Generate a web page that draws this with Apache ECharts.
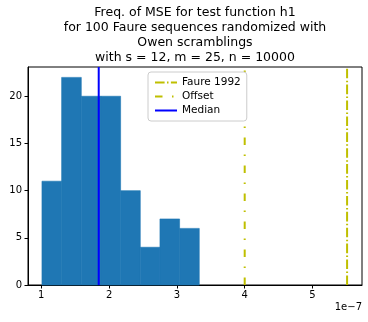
<!DOCTYPE html>
<html>
<head>
<meta charset="utf-8">
<script src="https://cdn.jsdelivr.net/npm/echarts@6/dist/echarts.min.js"></script>
<style>
  html, body { margin: 0; padding: 0; background: #fff; }
  #chart { width: 368px; height: 322px; }
</style>
</head>
<body>
<div id="chart"></div>
<script>
// histogram bins (values in units of 1e-7)
const binEdges = [1.01, 1.30, 1.59, 1.88, 2.17, 2.46, 2.75, 3.04, 3.33];
const binCounts = [11, 22, 20, 20, 10, 4, 7, 6];
const medianValue = 1.847;
const offsetValue = 4.0;
const faureValue = 5.51;
const xTicks = [1, 2, 3, 4, 5];
const yMax = 23.1;

const font = "DejaVu Sans";

let histData = [];
for (let i = 0; i < binCounts.length; i++) {
  histData.push([binEdges[i], binEdges[i + 1], binCounts[i]]);
}

function vline(v) {
  return [[v, 0], [v, yMax]];
}

let myChart = echarts.init(document.getElementById("chart"));
myChart.setOption({
  animation: false,
  title: {
    text: "Freq. of MSE for test function h1\nfor 100 Faure sequences randomized with\nOwen scramblings\nwith s = 12, m = 25, n = 10000",
    left: 195,
    top: 5,
    padding: 0,
    textAlign: "center",
    textStyle: {
      fontFamily: font,
      fontSize: 12.5,
      fontWeight: "normal",
      color: "#000",
      lineHeight: 15.2
    }
  },
  legend: {
    orient: "vertical",
    left: 148,
    top: 72,
    padding: [5, 6, 5, 6],
    itemGap: 3,
    itemWidth: 22,
    itemHeight: 12,
    backgroundColor: "#fff",
    borderColor: "#ccc",
    borderWidth: 1,
    borderRadius: 3,
    itemStyle: { opacity: 0 },
    textStyle: { fontFamily: font, fontSize: 10.5, color: "#000" },
    data: ["Faure 1992", "Offset", "Median"]
  },
  grid: {
    left: 28,
    right: 6,
    top: 67,
    bottom: 37,
    show: true,
    borderColor: "#000",
    borderWidth: 1
  },
  xAxis: {
    type: "value",
    min: 0.804,
    max: 5.73,
    splitLine: { show: false },
    axisLine: { lineStyle: { color: "#000" } },
    axisTick: { customValues: xTicks, length: 3.5, lineStyle: { color: "#000" } },
    axisLabel: {
      customValues: xTicks,
      fontFamily: font,
      fontSize: 10,
      color: "#000",
      margin: 5
    }
  },
  yAxis: {
    type: "value",
    min: 0,
    max: yMax,
    interval: 5,
    splitLine: { show: false },
    axisLine: { show: true, lineStyle: { color: "#000" } },
    axisTick: { show: true, length: 3.5, lineStyle: { color: "#000" } },
    axisLabel: {
      fontFamily: font,
      fontSize: 10,
      color: "#000",
      margin: 6,
      showMaxLabel: false
    }
  },
  graphic: [
    {
      type: "text",
      right: 6,
      top: 302,
      style: { text: "1e\u22127", fontFamily: font, fontSize: 10, fill: "#000" }
    }
  ],
  series: [
    {
      name: "hist",
      type: "custom",
      data: histData,
      renderItem: function (params, api) {
        let p0 = api.coord([api.value(0), 0]);
        let p1 = api.coord([api.value(1), api.value(2)]);
        return {
          type: "rect",
          shape: { x: p0[0], y: p1[1], width: p1[0] - p0[0], height: p0[1] - p1[1] },
          style: { fill: "#1f77b4", stroke: "#1f77b4", lineWidth: 0.6 }
        };
      },
      z: 1
    },
    {
      name: "Faure 1992",
      type: "line",
      data: vline(faureValue),
      symbol: "none",
      color: "#bfbf00",
      lineStyle: { color: "#bfbf00", width: 2, type: [9.6, 2.4, 1.5, 2.4] },
      z: 3
    },
    {
      name: "Offset",
      type: "line",
      data: vline(offsetValue),
      symbol: "none",
      color: "#bfbf00",
      lineStyle: { color: "#bfbf00", width: 2, type: [7.5, 9.5, 1.5, 9.5] },
      z: 3
    },
    {
      name: "Median",
      type: "line",
      data: vline(medianValue),
      symbol: "none",
      color: "#0000ff",
      lineStyle: { color: "#0000ff", width: 2 },
      z: 3
    }
  ]
});
</script>
</body>
</html>
